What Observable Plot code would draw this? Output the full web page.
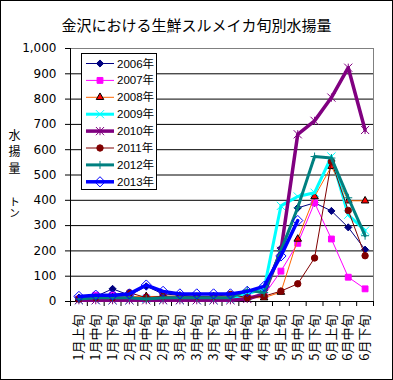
<!DOCTYPE html>
<html><head><meta charset="utf-8">
<script src="https://cdn.jsdelivr.net/npm/d3@7"></script>
<script src="https://cdn.jsdelivr.net/npm/@observablehq/plot@0.6"></script>
<style>
body{margin:0;background:#fff;}
#wrap{position:relative;width:393px;height:380px;overflow:hidden;background:#fff;}
#wrap > svg{position:absolute;left:0;top:0;}
#frame{position:absolute;left:0;top:0;width:393px;height:380px;box-sizing:border-box;border:1px solid #000;pointer-events:none;}
#title{position:absolute;left:0;top:16px;width:393px;text-align:center;font:15px/17px "Noto Sans CJK JP",sans-serif;color:#000;}
.yl{position:absolute;writing-mode:vertical-rl;text-orientation:upright;font-family:"Noto Sans CJK JP",sans-serif;color:#000;white-space:nowrap;}
#yl1{left:8px;top:128.5px;font-size:12px;line-height:12px;letter-spacing:4.7px;}
#yl2{left:8.5px;top:195.5px;font-size:11px;line-height:11px;letter-spacing:0.5px;}
</style></head><body><div id="wrap"></div>
<script>
const title = "金沢における生鮮スルメイカ旬別水揚量";
const yTitleTop = "水揚量";
const yTitleUnit = "トン";
const categories = ["1月上旬","1月中旬","1月下旬","2月上旬","2月中旬","2月下旬","3月上旬","3月中旬","3月下旬","4月上旬","4月中旬","4月下旬","5月上旬","5月中旬","5月下旬","6月上旬","6月中旬","6月下旬"];
const years = ["2006年","2007年","2008年","2009年","2010年","2011年","2012年","2013年"];
const v2006 = [15, 20, 50, 25, 60, 30, 25, 20, 20, 20, 30, 45, 210, 370, 390, 358, 293, 205];
const v2007 = [10, 25, 25, 15, 15, 20, 15, 15, 15, 15, 20, 25, 120, 230, 390, 247, 96, 50];
const v2008 = [10, 10, 15, 20, 20, 20, 15, 15, 20, 20, 15, 15, 37, 247, 415, 534, 398, 398];
const v2009 = [5, 5, 5, 5, 10, 5, 5, 5, 5, 10, 30, 50, 378, 415, 430, 573, 343, 280];
const v2010 = [5, 5, 5, 5, 5, 5, 5, 5, 5, 5, 10, 30, 200, 661, 714, 806, 924, 678];
const v2011 = [10, 15, 15, 35, 15, 21, 21, 20, 20, 28, 15, 21, 41, 70, 172, 553, 360, 181];
const v2012 = [10, 15, 15, 15, 10, 15, 15, 15, 15, 15, 45, 35, 200, 371, 573, 567, 410, 260];
const v2013 = [20, 25, 25, 30, 65, 40, 30, 30, 30, 30, 40, 60, 180, 320, null, null, null, null];
const yTicks = [0, 100, 200, 300, 400, 500, 600, 700, 800, 900, 1000];

const seriesValues = [v2006, v2007, v2008, v2009, v2010, v2011, v2012, v2013];

// Excel-like star marker (x with a vertical bar)
const starSymbol = {draw(ctx, size){const r = Math.sqrt(size)*0.5; ctx.moveTo(-r,-r);ctx.lineTo(r,r);ctx.moveTo(-r,r);ctx.lineTo(r,-r);ctx.moveTo(0,-r);ctx.lineTo(0,r);}};
const styles = [
  {line:"#000080", lw:1, symbol:"diamond2", r:3.2, fill:"#000080", mstroke:"#000080"},
  {line:"#FF00FF", lw:1, symbol:"square", r:3.3, fill:"#FF00FF", mstroke:"#FF00FF"},
  {line:"#FF6600", lw:1, symbol:"triangle", r:2.8, fill:"#FF0000", mstroke:"#000000"},
  {line:"#00FFFF", lw:3, symbol:"times", r:3.8, fill:"none", mstroke:"#00FFFF"},
  {line:"#800080", lw:3.5, symbol:starSymbol, r:4.6, fill:"none", mstroke:"#800080"},
  {line:"#800000", lw:1, symbol:"circle", r:3.2, fill:"#800000", mstroke:"#800000"},
  {line:"#008080", lw:3, symbol:"plus", r:2.7, fill:"none", mstroke:"#008080"},
  {line:"#0000FF", lw:3.5, symbol:"diamond2", r:4.6, fill:"none", mstroke:"#0000FF"}
];

const W = 393, H = 380, ML = 70, MR = 20, MT = 48, MB = 79;
const n = categories.length;
const catIndex = categories.map((c, i) => i);
const boundaries = categories.map((c, i) => i - 0.5).concat([n - 0.5]);

const seriesMarks = [];
seriesValues.forEach((vals, k) => {
  const data = categories.map((c, i) => ({i, cat: c, value: vals[i]})).filter(d => d.value != null);
  const s = styles[k];
  seriesMarks.push(Plot.line(data, {x: "i", y: "value", stroke: s.line, strokeWidth: s.lw, strokeLinejoin: "round"}));
  seriesMarks.push(Plot.dot(data, {x: "i", y: "value", symbol: s.symbol, r: s.r, fill: s.fill, stroke: s.mstroke, strokeWidth: 1}));
});

const chart = Plot.plot({
  width: W, height: H,
  marginLeft: ML, marginRight: MR, marginTop: MT, marginBottom: MB,
  style: {fontFamily: "'DejaVu Sans', sans-serif", fontSize: "12px", background: "transparent", color: "#000", overflow: "visible"},
  x: {type: "linear", domain: [-0.5, n - 0.5], axis: null},
  y: {domain: [0, 1000]},
  marks: [
    Plot.ruleY(yTicks.filter(d => d > 0 && d < 1000), {stroke: "#000"}),
    Plot.frame({stroke: "#808080"}),
    Plot.ruleY([0], {stroke: "#000"}),
    Plot.ruleX([boundaries[0]], {stroke: "#000"}),
    Plot.ruleX(boundaries, {y1: 0, y2: 0, insetBottom: -5, stroke: "#000"}),
    Plot.axisY({ticks: yTicks, tickSize: 5, tickPadding: 9, tickFormat: d3.format(","), label: null, fontSize: 12}),
    Plot.text(catIndex, {x: d => d, text: d => categories[d], frameAnchor: "bottom", dy: 13, rotate: -90, textAnchor: "end", lineAnchor: "middle", fontFamily: "'Noto Sans CJK JP', sans-serif", fontSize: 13, fill: "#000"}),
    ...seriesMarks
  ]
});

const wrap = document.getElementById("wrap");
wrap.appendChild(chart);

// title
const t = document.createElement("div"); t.id = "title"; t.textContent = title; wrap.appendChild(t);
// y title (vertical)
const y1 = document.createElement("div"); y1.id = "yl1"; y1.className = "yl"; y1.textContent = yTitleTop; wrap.appendChild(y1);
const y2 = document.createElement("div"); y2.id = "yl2"; y2.className = "yl"; y2.textContent = yTitleUnit; wrap.appendChild(y2);

// legend
const lg = d3.select(wrap).append("svg").attr("width", W).attr("height", H);
lg.append("rect").attr("x", 81.5).attr("y", 53.5).attr("width", 75).attr("height", 136).attr("fill", "#fff").attr("stroke", "#000");
years.forEach((yname, k) => {
  const s = styles[k];
  const cy = 63.5 + 16.9 * k;
  const g = lg.append("g");
  g.append("line").attr("x1", 86).attr("x2", 114).attr("y1", cy).attr("y2", cy).attr("stroke", s.line).attr("stroke-width", s.lw);
  const symType = typeof s.symbol === "string" ? ({diamond2: d3.symbolDiamond2, square: d3.symbolSquare, triangle: d3.symbolTriangle, times: d3.symbolTimes, circle: d3.symbolCircle, plus: d3.symbolPlus})[s.symbol] : s.symbol;
  g.append("path").attr("transform", `translate(100,${cy})`).attr("d", d3.symbol(symType, Math.PI * s.r * s.r)()).attr("fill", s.fill).attr("stroke", s.mstroke).attr("stroke-width", 1);
  g.append("text").attr("x", 117).attr("y", cy + 4).attr("font-family", "'Liberation Sans','Noto Sans CJK JP',sans-serif").attr("font-size", 11.5).attr("fill", "#000").text(yname);
});

const fr = document.createElement("div"); fr.id = "frame"; wrap.appendChild(fr);
</script>
</body></html>
